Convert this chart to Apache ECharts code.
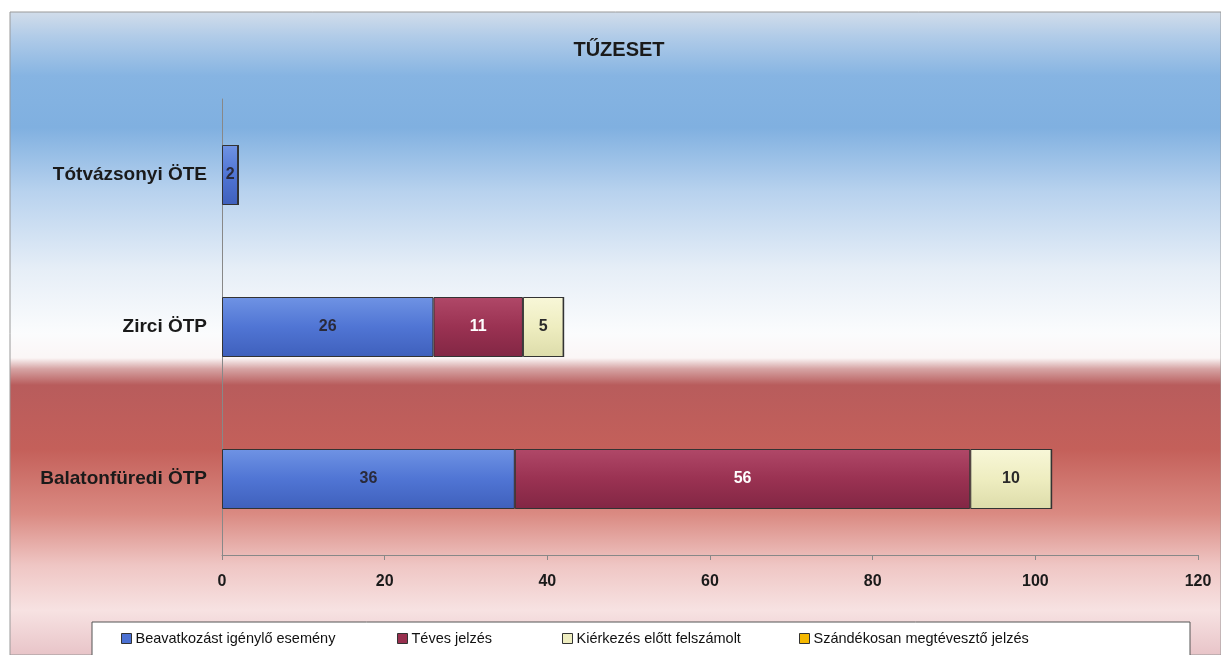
<!DOCTYPE html>
<html><head><meta charset="utf-8">
<script src="https://cdn.jsdelivr.net/npm/echarts@6/dist/echarts.min.js"></script>
<style>html,body{margin:0;padding:0;background:#fff}#c{width:1221px;height:655px}</style>
</head><body><div id="c"></div>
<script>
var categories = ['Balatonfüredi ÖTP', 'Zirci ÖTP', 'Tótvázsonyi ÖTE'];
var seriesNames = ['Beavatkozást igénylő esemény', 'Téves jelzés', 'Kiérkezés előtt felszámolt', 'Szándékosan megtévesztő jelzés'];
var beavatkozas = [36, 26, 2];
var teves = [56, 11, 0];
var kierkezes = [10, 5, 0];
var szandekos = [0, 0, 0];
var xTicks = [0, 20, 40, 60, 80, 100, 120];

function grad(c1, c2, c3) {
  return new echarts.graphic.LinearGradient(0, 0, 0, 1, [
    {offset: 0, color: c1}, {offset: 0.5, color: c2}, {offset: 1, color: c3}
  ]);
}
var colors = [
  grad('#6f93e4', '#5075d4', '#3f60bc'),
  grad('#b04868', '#9a3252', '#822644'),
  grad('#f8f7d8', '#eeedc0', '#dddcaa'),
  grad('#ffd040', '#f5b800', '#d89a00')
];
var flatColors = ['#4b70d2', '#98304f', '#eeedc0', '#f5b800'];
var labelColors = ['#2a2a3a', '#ffffff', '#2a2a2a', '#2a2a2a'];
var dataArr = [beavatkozas, teves, kierkezes, szandekos];

var series = seriesNames.map(function (n, i) {
  return {
    name: n, type: 'bar', stack: 'total', barWidth: 60,
    data: dataArr[i],
    itemStyle: {color: colors[i], borderColor: '#333', borderWidth: 1},
    label: {
      show: true, position: 'inside', color: labelColors[i],
      fontFamily: 'Liberation Sans', fontWeight: 'bold', fontSize: 16,
      formatter: function (p) { return p.value ? String(p.value) : ''; }
    }
  };
});

var legendX = [116, 392, 557, 794];
var legends = seriesNames.map(function (n, i) {
  return {
    z: 20,
    data: [{name: n, icon: 'rect', itemStyle: {color: flatColors[i], borderColor: '#333', borderWidth: 1}}],
    left: legendX[i], top: 626, itemWidth: 10, itemHeight: 10, itemGap: 6,
    selectedMode: false,
    textStyle: {fontFamily: 'Liberation Sans', fontSize: 14.5, color: '#111', padding: [0, 0, 0, -1]}
  };
});

var chart = echarts.init(document.getElementById('c'));
chart.setOption({
  animation: false,
  backgroundColor: '#ffffff',
  title: {
    text: 'TŰZESET', left: 614, top: 35, textAlign: 'center',
    textStyle: {fontFamily: 'Liberation Sans', fontWeight: 'bold', fontSize: 20, color: '#1a1a1a'}
  },
  graphic: [
    {type: 'rect', z: -10, silent: true,
     shape: {x: 10, y: 12, width: 1211, height: 643},
     style: {
       stroke: '#999', lineWidth: 1,
       fill: new echarts.graphic.LinearGradient(0, 0, 0, 1, [
         {offset: 0.00, color: '#d2ddea'},
         {offset: 0.04, color: '#b0cbe8'},
         {offset: 0.10, color: '#86b4e2'},
         {offset: 0.18, color: '#80b0e0'},
         {offset: 0.28, color: '#b8d2ee'},
         {offset: 0.40, color: '#e6eef7'},
         {offset: 0.50, color: '#fbfcfd'},
         {offset: 0.538, color: '#fbf6f6'},
         {offset: 0.555, color: '#d6a4a4'},
         {offset: 0.58, color: '#b85c5c'},
         {offset: 0.68, color: '#c4605a'},
         {offset: 0.78, color: '#da8a82'},
         {offset: 0.86, color: '#efc6c4'},
         {offset: 0.93, color: '#f7e2e2'},
         {offset: 1.00, color: '#e8c4c8'}
       ])
     }},
    {type: 'rect', z: -5, silent: true,
     shape: {x: 92, y: 622, width: 1098, height: 40},
     style: {fill: '#ffffff', stroke: '#555', lineWidth: 1}}
  ],
  legend: legends,
  grid: {left: 222, right: 23, top: 99, bottom: 100, containLabel: false},
  xAxis: {
    type: 'value', min: 0, max: 120, interval: 20,
    axisLine: {show: true, lineStyle: {color: '#888'}},
    axisTick: {show: true, length: 5, lineStyle: {color: '#888'}},
    splitLine: {show: false},
    axisLabel: {
      margin: 19, fontFamily: 'Liberation Sans', fontWeight: 'bold', fontSize: 16, color: '#1a1a1a',
      formatter: function (v) { return xTicks.indexOf(v) >= 0 ? String(v) : ''; }
    }
  },
  yAxis: {
    type: 'category', data: categories,
    axisLine: {show: true, lineStyle: {color: '#888'}},
    axisTick: {show: false},
    axisLabel: {margin: 15, fontFamily: 'Liberation Sans', fontWeight: 'bold', fontSize: 19, color: '#1a1a1a'}
  },
  series: series
});
</script></body></html>
